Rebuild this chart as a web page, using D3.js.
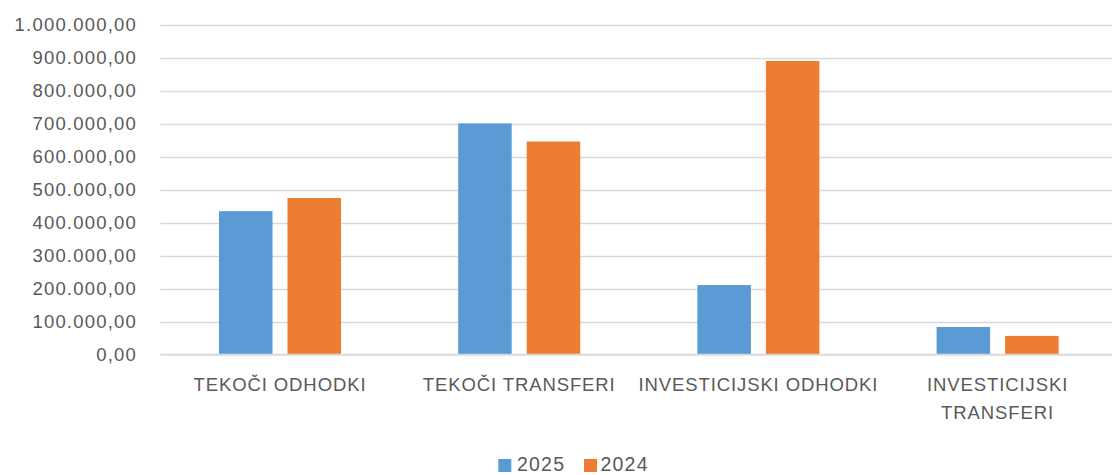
<!DOCTYPE html>
<html>
<head>
<meta charset="utf-8">
<script src="https://cdn.jsdelivr.net/npm/d3@7"></script>
<style>
  html, body { margin: 0; padding: 0; background: #fff; }
  svg { display: block; }
  text { font-family: "Liberation Sans", Arial, sans-serif; fill: #595959; }
</style>
</head>
<body>
<svg id="chart" width="1112" height="475"></svg>
<script>
const categories = ["TEKOČI ODHODKI", "TEKOČI TRANSFERI", "INVESTICIJSKI ODHODKI", "INVESTICIJSKI TRANSFERI"];
const categoryLabelLines = [["TEKOČI ODHODKI"], ["TEKOČI TRANSFERI"], ["INVESTICIJSKI ODHODKI"], ["INVESTICIJSKI", "TRANSFERI"]];
const seriesNames = ["2025", "2024"];
const values2025 = [435000, 701000, 211000, 84000];
const values2024 = [475000, 646000, 890000, 57000];
const yTicks = [0, 100000, 200000, 300000, 400000, 500000, 600000, 700000, 800000, 900000, 1000000];
const yTickLabels = ["0,00", "100.000,00", "200.000,00", "300.000,00", "400.000,00", "500.000,00", "600.000,00", "700.000,00", "800.000,00", "900.000,00", "1.000.000,00"];
const colors = ["#5B9BD5", "#ED7D31"];

const seriesValues = [values2025, values2024];

const svg = d3.select("#chart");
const plot = { left: 160.4, right: 1117.2, top: 24.7, bottom: 354.7 };

const x0 = d3.scaleBand().domain(categories).range([plot.left, plot.right]).paddingInner(0).paddingOuter(0);
const x1 = d3.scaleBand().domain(seriesNames).range([0, x0.bandwidth()]).paddingInner(0.219).paddingOuter(0.855);
const y = d3.scaleLinear().domain([0, 1000000]).range([plot.bottom, plot.top]);

// gridlines
svg.append("g").selectAll("line").data(yTicks.slice(1)).join("line")
  .attr("x1", plot.left).attr("x2", plot.right)
  .attr("y1", d => Math.round(y(d)) + 0.5).attr("y2", d => Math.round(y(d)) + 0.5)
  .attr("stroke", "#d9d9d9").attr("stroke-width", 1.3);

// bars
const groups = svg.append("g").selectAll("g").data(categories).join("g")
  .attr("transform", c => `translate(${x0(c)},0)`);
groups.selectAll("rect").data((c, i) => seriesNames.map((s, j) => ({ s, v: seriesValues[j][i], j })))
  .join("rect")
  .attr("x", d => x1(d.s))
  .attr("width", x1.bandwidth())
  .attr("y", d => y(d.v))
  .attr("height", d => y(0) - y(d.v))
  .attr("fill", d => colors[d.j]);

// zero axis line
svg.append("line")
  .attr("x1", plot.left).attr("x2", plot.right)
  .attr("y1", y(0)).attr("y2", y(0))
  .attr("stroke", "#d9d9d9").attr("stroke-width", 2);

// y axis labels
svg.append("g").selectAll("text").data(yTicks).join("text")
  .attr("x", 137)
  .attr("y", d => y(d))
  .attr("dy", "0.36em")
  .attr("text-anchor", "end")
  .style("font-size", "18.5px")
  .style("letter-spacing", "1.2px")
  .text((d, i) => yTickLabels[i]);

// x axis labels
const xl = svg.append("g").selectAll("text").data(categories).join("text")
  .attr("x", c => x0(c) + x0.bandwidth() / 2)
  .attr("y", 391)
  .attr("text-anchor", "middle")
  .style("font-size", "18.5px")
  .style("letter-spacing", "0.9px");
xl.selectAll("tspan").data((c, i) => categoryLabelLines[i]).join("tspan")
  .attr("x", function () { return this.parentNode.getAttribute("x"); })
  .attr("dy", (d, k) => k === 0 ? 0 : 28.4)
  .text(d => d);

// legend
const legendItems = [
  { name: seriesNames[0], color: colors[0], sx: 498.3, tx: 517 },
  { name: seriesNames[1], color: colors[1], sx: 584, tx: 600.5 }
];
const lg = svg.append("g");
lg.selectAll("rect").data(legendItems).join("rect")
  .attr("x", d => d.sx).attr("y", 459).attr("width", 13).attr("height", 13)
  .attr("fill", d => d.color);
lg.selectAll("text").data(legendItems).join("text")
  .attr("x", d => d.tx).attr("y", 471)
  .style("font-size", "19.5px")
  .style("letter-spacing", "1.2px")
  .text(d => d.name);
</script>
</body>
</html>
